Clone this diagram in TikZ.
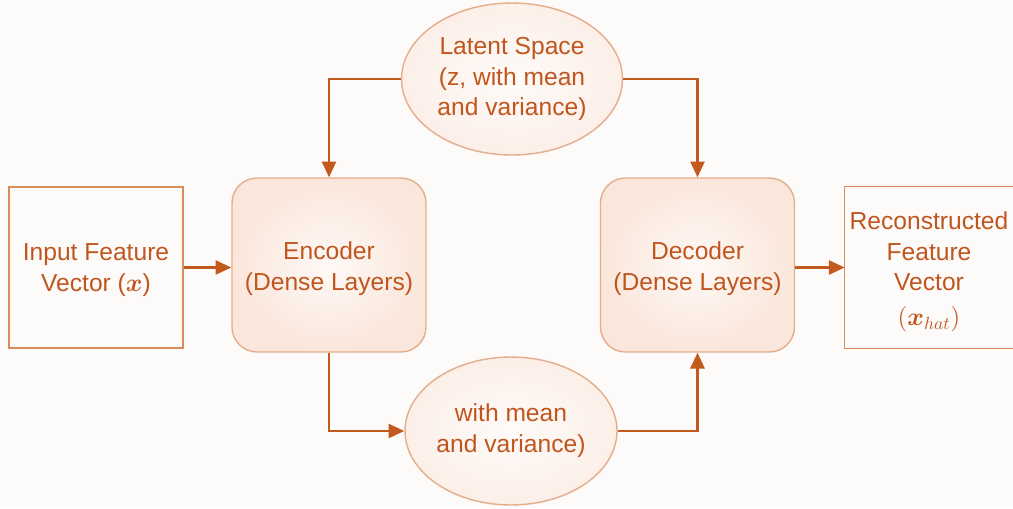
\documentclass[tikz,border=0pt]{standalone}
\usepackage{fontspec}
\setmainfont{Liberation Sans}
\usepackage{bm}
\usetikzlibrary{shapes.geometric,arrows.meta,calc}
\definecolor{txt}{HTML}{C0561E}
\definecolor{arrc}{HTML}{C2591D}
\definecolor{sqb}{HTML}{D98B5E}
\definecolor{softb}{HTML}{E4AD8C}
\definecolor{peachin}{HTML}{FEF9F6}
\definecolor{peachout}{HTML}{FAE6DB}
\definecolor{ellin}{HTML}{FEFBF9}
\definecolor{ellout}{HTML}{FCEFE8}
\definecolor{bg}{HTML}{FDFBFA}
\tikzset{
  lbl/.style={text=txt,font=\fontsize{14}{17.6}\selectfont,align=center},
  sqbox/.style={rectangle,draw=sqb,line width=0.9pt,inner sep=0pt},
  softbox/.style={rectangle,rounded corners=0.5cm,draw=softb,line width=0.8pt,inner sep=0pt,
    inner color=peachin,outer color=peachout,minimum width=3.88cm,minimum height=3.48cm},
  ellnode/.style={lbl,ellipse,draw=softb,line width=0.8pt,inner sep=0pt,inner color=ellin,outer color=ellout},
  arr/.style={draw=arrc,line width=1.4pt,-{Triangle[length=9pt,width=8pt]},arrc}
}
\begin{document}
\begin{tikzpicture}[x=0.02cm,y=-0.02cm]
\fill[bg] (0,0) rectangle (1013,508);
\useasboundingbox (0,0) rectangle (1013,508);
\node[sqbox,minimum width=3.48cm,minimum height=3.22cm,
  label={[lbl,yshift=-0.05cm]center:Input Feature\\Vector ($\bm{x}$)}] (in) at (96,267.5) {};
\node[softbox,label={[lbl,yshift=-0.08cm]center:Encoder\\(Dense Layers)}] (enc) at (329,265) {};
\node[softbox,label={[lbl,yshift=-0.08cm]center:Decoder\\(Dense Layers)}] (dec) at (697.5,265) {};
\node[rectangle,inner sep=0pt,minimum width=3.36cm,minimum height=3.22cm,
  label={[lbl,yshift=-0.08cm]center:Reconstructed\\Feature\\Vector\\[2pt]$(\bm{x}_{hat})$}] (out) at (929,267.5) {};
\draw[sqb,line width=0.9pt] (out.north east) -- (out.north west) -- (out.south west) -- (out.south east);
\node[ellnode,minimum width=4.42cm,minimum height=3.04cm] (lat) at (512,79) {Latent Space\\(z, with mean\\and variance)};
\node[ellnode,minimum width=4.24cm,minimum height=2.96cm] (var) at (511,431) {with mean\\and variance)};
\draw[arr] (in.east) -- (in.east -| enc.west);
\draw[arr] (lat.west) -| (enc.north);
\draw[arr] (lat.east) -| (dec.north);
\draw[arr] (enc.south) |- (var.west);
\draw[arr] (var.east) -| (dec.south);
\draw[arr] (dec.east |- out.west) -- (out.west);
\end{tikzpicture}
\end{document}
